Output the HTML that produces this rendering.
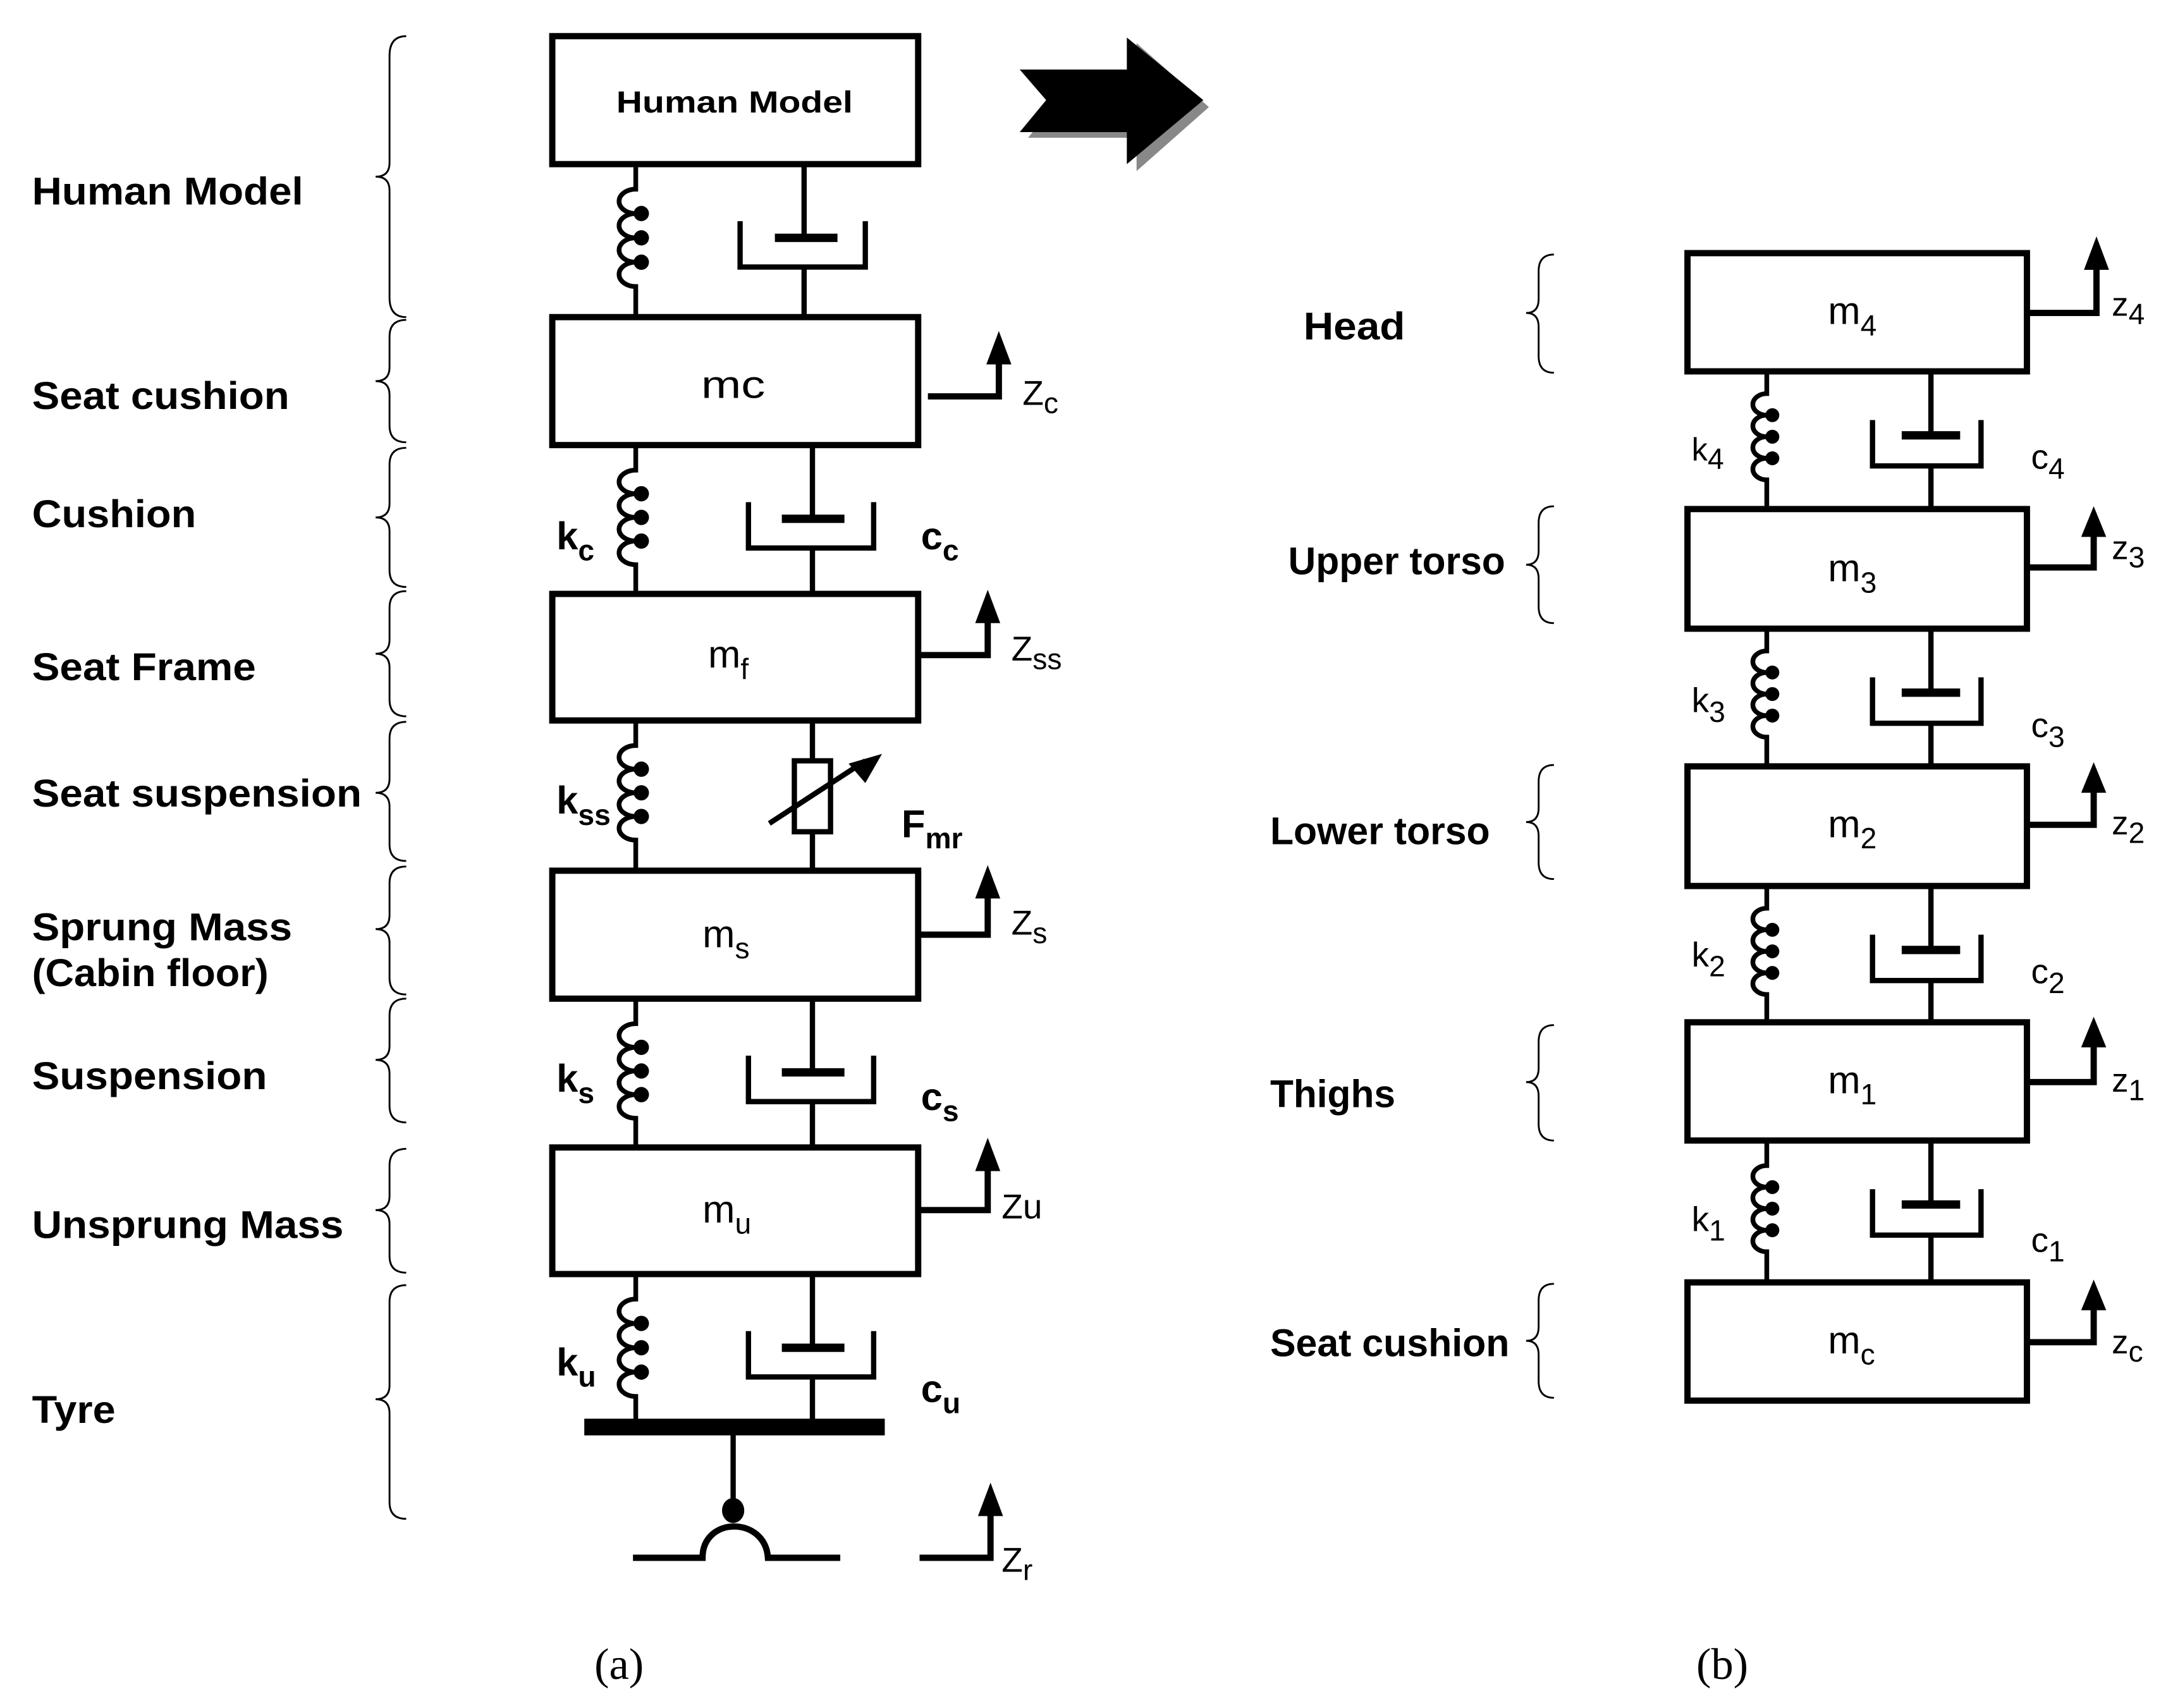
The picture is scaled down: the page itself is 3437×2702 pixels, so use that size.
<!DOCTYPE html>
<html><head><meta charset="utf-8"><style>
html,body{margin:0;padding:0;background:#fff;}
svg{display:block;}
.lab{font-family:"Liberation Sans",Arial,sans-serif;font-weight:bold;font-size:28px;fill:#000;}
.m{font-family:"Liberation Sans",Arial,sans-serif;font-size:28px;fill:#000;}
.sub{font-size:21px;}
</style></head><body>
<svg width="3437" height="2702" viewBox="0 0 1562 1228" preserveAspectRatio="none" xmlns="http://www.w3.org/2000/svg">
<g fill="none" stroke="#000">
<g stroke-width="4.5">
<rect x="397" y="26" width="263" height="92"/>
<rect x="397" y="228" width="263" height="92"/>
<rect x="397" y="427" width="263" height="91"/>
<rect x="397" y="626" width="263" height="92"/>
<rect x="397" y="825" width="263" height="91"/>
<rect x="1213" y="182" width="244" height="85"/>
<rect x="1213" y="366" width="244" height="86"/>
<rect x="1213" y="551" width="244" height="86"/>
<rect x="1213" y="735" width="244" height="85"/>
<rect x="1213" y="922" width="244" height="85"/>
</g>
<g stroke-width="3.4">
<path d="M457 118 V136 A12 8.75 0 0 0 457 153.5 A12 8.75 0 0 0 457 171 A12 8.75 0 0 0 457 188.5 A12 8.75 0 0 0 457 206 V228"/>
<path d="M457 320 V338 A12 8.5 0 0 0 457 355 A12 8.5 0 0 0 457 372 A12 8.5 0 0 0 457 389 A12 8.5 0 0 0 457 406 V427"/>
<path d="M457 518 V536 A12 8.5 0 0 0 457 553 A12 8.5 0 0 0 457 570 A12 8.5 0 0 0 457 587 A12 8.5 0 0 0 457 604 V626"/>
<path d="M457 718 V736 A12 8.5 0 0 0 457 753 A12 8.5 0 0 0 457 770 A12 8.5 0 0 0 457 787 A12 8.5 0 0 0 457 804 V825"/>
<path d="M457 916 V934 A12 8.75 0 0 0 457 951.5 A12 8.75 0 0 0 457 969 A12 8.75 0 0 0 457 986.5 A12 8.75 0 0 0 457 1004 V1026"/>
<path d="M1270 267 V283 A10 7.75 0 0 0 1270 298.5 A10 7.75 0 0 0 1270 314 A10 7.75 0 0 0 1270 329.5 A10 7.75 0 0 0 1270 345 V366"/>
<path d="M1270 452 V468 A10 7.75 0 0 0 1270 483.5 A10 7.75 0 0 0 1270 499 A10 7.75 0 0 0 1270 514.5 A10 7.75 0 0 0 1270 530 V551"/>
<path d="M1270 637 V653 A10 7.75 0 0 0 1270 668.5 A10 7.75 0 0 0 1270 684 A10 7.75 0 0 0 1270 699.5 A10 7.75 0 0 0 1270 715 V735"/>
<path d="M1270 820 V838 A10 7.75 0 0 0 1270 853.5 A10 7.75 0 0 0 1270 869 A10 7.75 0 0 0 1270 884.5 A10 7.75 0 0 0 1270 900 V922"/>
</g>
<g stroke-width="3.8">
<path d="M578 118 V171 M532 159 V192 H622 V159 M578 192 V228"/>
<path d="M584 320 V373 M538 361 V394 H628 V361 M584 394 V427"/>
<path d="M584 718 V771 M538 759 V792 H628 V759 M584 792 V825"/>
<path d="M584 916 V969 M538 957 V990 H628 V957 M584 990 V1026"/>
<path d="M584 518 V547 M584 598 V626"/>
<rect x="571" y="547" width="26" height="51"/>
<path d="M553 592 L622 547"/>
<path d="M1388 267 V313 M1346 302 V335 H1424 V302 M1388 335 V366"/>
<path d="M1388 452 V498 M1346 487 V520 H1424 V487 M1388 520 V551"/>
<path d="M1388 637 V683 M1346 672 V705 H1424 V672 M1388 705 V735"/>
<path d="M1388 820 V866 M1346 855 V888 H1424 V855 M1388 888 V922"/>
<path d="M527 1026 V1085"/>
<path d="M455 1120 H505 C505 1090 550 1090 552 1120 H604" stroke-width="4.5"/>
<path d="M667 285 H718 V250" stroke-width="4.5"/>
<path d="M660 471 H710 V436" stroke-width="4.5"/>
<path d="M660 672 H710 V634" stroke-width="4.5"/>
<path d="M660 870 H710 V830" stroke-width="4.5"/>
<path d="M661 1120 H712 V1080" stroke-width="4.5"/>
<path d="M1457 225 H1507 V185" stroke-width="4.5"/>
<path d="M1457 408 H1505 V376" stroke-width="4.5"/>
<path d="M1457 593 H1505 V560" stroke-width="4.5"/>
<path d="M1457 778 H1505 V743" stroke-width="4.5"/>
<path d="M1457 965 H1505 V932" stroke-width="4.5"/>
</g>
<g stroke-width="1.3">
<path d="M292 26 Q280 26 280 40 V117 Q280 127 270 127 Q280 127 280 137 V214 Q280 228 292 228"/>
<path d="M292 230 Q280 230 280 242 V264 Q280 274 270 274 Q280 274 280 284 V306 Q280 318 292 318"/>
<path d="M292 322 Q280 322 280 334 V362 Q280 372 270 372 Q280 372 280 382 V410 Q280 422 292 422"/>
<path d="M292 425 Q280 425 280 437 V460 Q280 470 270 470 Q280 470 280 480 V503 Q280 515 292 515"/>
<path d="M292 519 Q280 519 280 531 V560 Q280 570 270 570 Q280 570 280 580 V607 Q280 619 292 619"/>
<path d="M292 623 Q280 623 280 635 V658 Q280 668 270 668 Q280 668 280 678 V703 Q280 715 292 715"/>
<path d="M292 718 Q280 718 280 730 V752 Q280 762 270 762 Q280 762 280 772 V795 Q280 807 292 807"/>
<path d="M292 826 Q280 826 280 838 V860 Q280 870 270 870 Q280 870 280 880 V903 Q280 915 292 915"/>
<path d="M292 924 Q280 924 280 936 V996 Q280 1006 270 1006 Q280 1006 280 1016 V1080 Q280 1092 292 1092"/>
<path d="M1117 183 Q1106 183 1106 195 V215 Q1106 225 1097 225 Q1106 225 1106 235 V256 Q1106 268 1117 268"/>
<path d="M1117 364 Q1106 364 1106 376 V396 Q1106 406 1097 406 Q1106 406 1106 416 V436 Q1106 448 1117 448"/>
<path d="M1117 550 Q1106 550 1106 562 V581 Q1106 591 1097 591 Q1106 591 1106 601 V620 Q1106 632 1117 632"/>
<path d="M1117 737 Q1106 737 1106 749 V768 Q1106 778 1097 778 Q1106 778 1106 788 V808 Q1106 820 1117 820"/>
<path d="M1117 923 Q1106 923 1106 935 V954 Q1106 964 1097 964 Q1106 964 1106 974 V993 Q1106 1005 1117 1005"/>
</g>
</g>
<g fill="#000">
<circle cx="461" cy="153.5" r="5.5"/><circle cx="461" cy="171" r="5.5"/><circle cx="461" cy="188.5" r="5.5"/>
<circle cx="461" cy="355" r="5.5"/><circle cx="461" cy="372" r="5.5"/><circle cx="461" cy="389" r="5.5"/>
<circle cx="461" cy="553" r="5.5"/><circle cx="461" cy="570" r="5.5"/><circle cx="461" cy="587" r="5.5"/>
<circle cx="461" cy="753" r="5.5"/><circle cx="461" cy="770" r="5.5"/><circle cx="461" cy="787" r="5.5"/>
<circle cx="461" cy="951.5" r="5.5"/><circle cx="461" cy="969" r="5.5"/><circle cx="461" cy="986.5" r="5.5"/>
<circle cx="1274" cy="298.5" r="5"/><circle cx="1274" cy="314" r="5"/><circle cx="1274" cy="329.5" r="5"/>
<circle cx="1274" cy="483.5" r="5"/><circle cx="1274" cy="499" r="5"/><circle cx="1274" cy="514.5" r="5"/>
<circle cx="1274" cy="668.5" r="5"/><circle cx="1274" cy="684" r="5"/><circle cx="1274" cy="699.5" r="5"/>
<circle cx="1274" cy="853.5" r="5"/><circle cx="1274" cy="869" r="5"/><circle cx="1274" cy="884.5" r="5"/>
<rect x="557" y="168" width="45" height="6"/>
<rect x="562" y="370" width="45" height="6"/>
<rect x="562" y="768" width="45" height="6"/>
<rect x="562" y="966" width="45" height="6"/>
<rect x="1367" y="310" width="42" height="6"/>
<rect x="1367" y="495" width="42" height="6"/>
<rect x="1367" y="680" width="42" height="6"/>
<rect x="1367" y="863" width="42" height="6"/>
<polygon points="634,542 610,549 622,563"/>
<rect x="420" y="1020" width="216" height="12"/>
<ellipse cx="527" cy="1086" rx="8" ry="9"/>
<polygon points="718,238 709,262 727,262"/>
<polygon points="710,424 701,448 719,448"/>
<polygon points="710,622 701,646 719,646"/>
<polygon points="710,818 701,842 719,842"/>
<polygon points="712,1066 703,1090 721,1090"/>
<polygon points="1507,170 1498,194 1516,194"/>
<polygon points="1505,364 1496,386 1514,386"/>
<polygon points="1505,548 1496,570 1514,570"/>
<polygon points="1505,731 1496,753 1514,753"/>
<polygon points="1505,920 1496,942 1514,942"/>
<polygon points="739,55 817,55 817,31 869,77 817,123 817,99 739,99 757,77" fill="#888"/>
<polygon points="733,50 810,50 810,27 865,72 810,118 810,95 733,95 752,72"/>
</g>
<g class="lab">
<text x="23" y="147" textLength="195" lengthAdjust="spacingAndGlyphs">Human Model</text>
<text x="23" y="294" textLength="185" lengthAdjust="spacingAndGlyphs">Seat cushion</text>
<text x="23" y="379" textLength="118" lengthAdjust="spacingAndGlyphs">Cushion</text>
<text x="23" y="489" textLength="161" lengthAdjust="spacingAndGlyphs">Seat Frame</text>
<text x="23" y="580" textLength="237" lengthAdjust="spacingAndGlyphs">Seat suspension</text>
<text x="23" y="676" textLength="187" lengthAdjust="spacingAndGlyphs">Sprung Mass</text>
<text x="23" y="709" textLength="170" lengthAdjust="spacingAndGlyphs">(Cabin floor)</text>
<text x="23" y="783" textLength="169" lengthAdjust="spacingAndGlyphs">Suspension</text>
<text x="23" y="890" textLength="224" lengthAdjust="spacingAndGlyphs">Unsprung Mass</text>
<text x="23" y="1023" textLength="60" lengthAdjust="spacingAndGlyphs">Tyre</text>
<text x="937" y="244" textLength="73" lengthAdjust="spacingAndGlyphs">Head</text>
<text x="926" y="413" textLength="156" lengthAdjust="spacingAndGlyphs">Upper torso</text>
<text x="913" y="607" textLength="158" lengthAdjust="spacingAndGlyphs">Lower torso</text>
<text x="913" y="796" textLength="90" lengthAdjust="spacingAndGlyphs">Thighs</text>
<text x="913" y="975" textLength="172" lengthAdjust="spacingAndGlyphs">Seat cushion</text>
<text x="443" y="81" font-size="22" textLength="170" lengthAdjust="spacingAndGlyphs">Human Model</text>
<text x="400" y="395">k<tspan class="sub" dy="8">c</tspan></text>
<text x="662" y="395">c<tspan class="sub" dy="8">c</tspan></text>
<text x="400" y="585">k<tspan class="sub" dy="8">ss</tspan></text>
<text x="648" y="602">F<tspan class="sub" dy="8">mr</tspan></text>
<text x="400" y="785">k<tspan class="sub" dy="8">s</tspan></text>
<text x="662" y="798">c<tspan class="sub" dy="8">s</tspan></text>
<text x="400" y="989">k<tspan class="sub" dy="8">u</tspan></text>
<text x="662" y="1008">c<tspan class="sub" dy="8">u</tspan></text>
</g>
<g class="m">
<text x="504" y="286" textLength="46" lengthAdjust="spacingAndGlyphs">mc</text>
<text x="509" y="480">m<tspan class="sub" dy="8">f</tspan></text>
<text x="505" y="681">m<tspan class="sub" dy="8">s</tspan></text>
<text x="505" y="879">m<tspan class="sub" dy="8">u</tspan></text>
<text x="735" y="291" font-size="25">Z<tspan class="sub" dy="6">c</tspan></text>
<text x="727" y="475" font-size="25">Z<tspan class="sub" dy="6">ss</tspan></text>
<text x="727" y="672" font-size="25">Z<tspan class="sub" dy="6">s</tspan></text>
<text x="720" y="876" font-size="25">Zu</text>
<text x="720" y="1130" font-size="25">Z<tspan class="sub" dy="6">r</tspan></text>
<text x="1314" y="233">m<tspan class="sub" dy="8">4</tspan></text>
<text x="1314" y="418">m<tspan class="sub" dy="8">3</tspan></text>
<text x="1314" y="602">m<tspan class="sub" dy="8">2</tspan></text>
<text x="1314" y="786">m<tspan class="sub" dy="8">1</tspan></text>
<text x="1314" y="973">m<tspan class="sub" dy="8">c</tspan></text>
<text x="1216" y="331" font-size="23">k<tspan class="sub" dy="6">4</tspan></text>
<text x="1216" y="512" font-size="25">k<tspan class="sub" dy="7">3</tspan></text>
<text x="1216" y="695" font-size="25">k<tspan class="sub" dy="7">2</tspan></text>
<text x="1216" y="885" font-size="25">k<tspan class="sub" dy="7">1</tspan></text>
<text x="1460" y="337" font-size="25">c<tspan class="sub" dy="7">4</tspan></text>
<text x="1460" y="530" font-size="25">c<tspan class="sub" dy="7">3</tspan></text>
<text x="1460" y="707" font-size="25">c<tspan class="sub" dy="7">2</tspan></text>
<text x="1460" y="900" font-size="25">c<tspan class="sub" dy="7">1</tspan></text>
<text x="1518" y="227" font-size="24">z<tspan class="sub" dy="6">4</tspan></text>
<text x="1518" y="402" font-size="24">z<tspan class="sub" dy="6">3</tspan></text>
<text x="1518" y="600" font-size="24">z<tspan class="sub" dy="6">2</tspan></text>
<text x="1518" y="785" font-size="24">z<tspan class="sub" dy="6">1</tspan></text>
<text x="1518" y="973" font-size="24">z<tspan class="sub" dy="6">c</tspan></text>
</g>
<text x="445" y="1207" text-anchor="middle" font-family="Liberation Serif, serif" font-size="32">(a)</text>
<text x="1238" y="1207" text-anchor="middle" font-family="Liberation Serif, serif" font-size="32">(b)</text>
</svg>
</body></html>
